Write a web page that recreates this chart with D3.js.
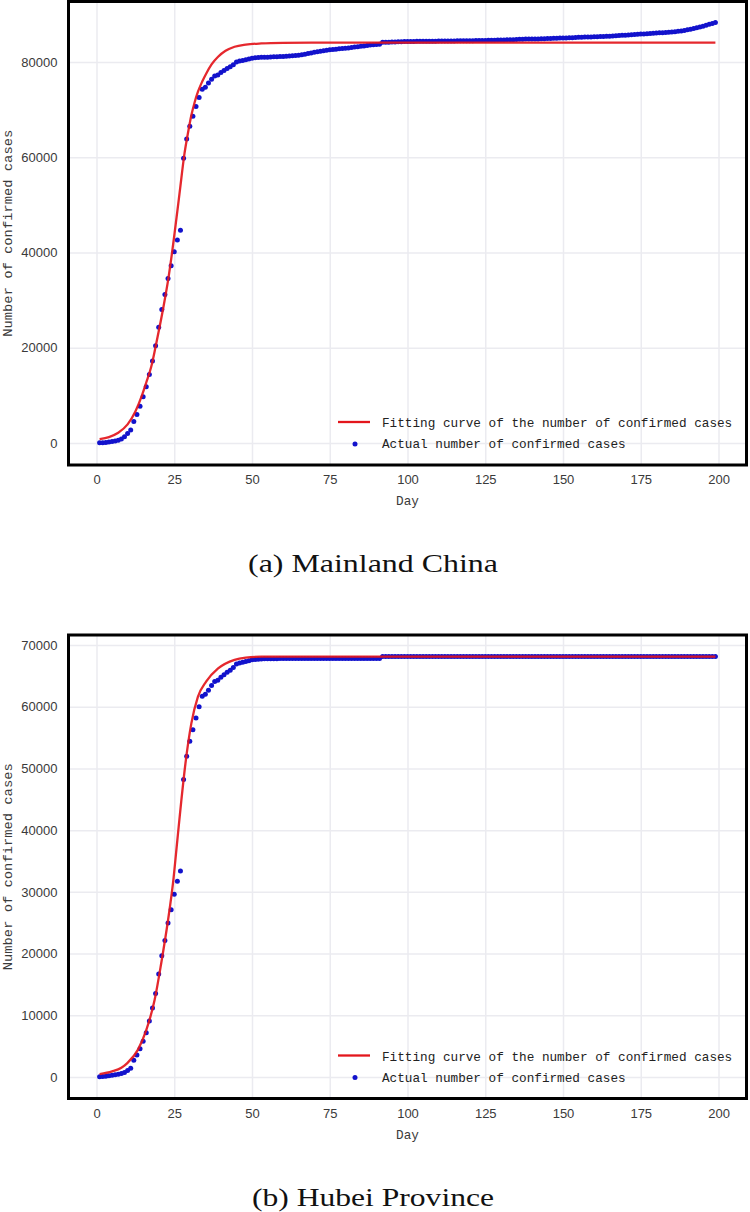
<!DOCTYPE html>
<html>
<head>
<meta charset="utf-8">
<script src="https://cdn.jsdelivr.net/npm/d3@7"></script>
<style>
  body { margin: 0; background: #fff; }
  svg { display: block; }
</style>
</head>
<body>
<svg id="chart" width="750" height="1212"></svg>
<script>
const xTicks = [0, 25, 50, 75, 100, 125, 150, 175, 200];
const chinaTicks = [0, 20000, 40000, 60000, 80000];
const hubeiTicks = [0, 10000, 20000, 30000, 40000, 50000, 60000, 70000];
const legendLabels = ['Fitting curve of the number of confirmed cases', 'Actual number of confirmed cases'];
const captions = ['(a) Mainland China', '(b) Hubei Province'];

// cumulative confirmed cases, day 1..199
const chinaActual = [
  45, 62, 121, 198, 291, 440, 571, 830, 1287, 1975,
  2744, 4515, 5974, 7711, 9692, 11791, 14380, 17205, 20438, 24324,
  28018, 31161, 34546, 37198, 40171, 42638, 44653, 59804, 63851, 66492,
  68590, 70640, 72530, 74290, 74680, 75580, 76400, 77060, 77280, 77790,
  78200, 78640, 78980, 79410, 79990, 80200, 80330, 80460, 80610, 80760,
  80870, 80920, 80970, 80990, 81020, 81050, 81080, 81100, 81130, 81170,
  81200, 81240, 81290, 81350, 81420, 81530, 81640, 81780, 81890, 82020,
  82150, 82270, 82370, 82470, 82560, 82630, 82700, 82760, 82810, 82880,
  82950, 83030, 83130, 83220, 83300, 83380, 83480, 83580, 83640, 83690,
  83740, 84150, 84160, 84170, 84200, 84220, 84240, 84260, 84280, 84290,
  84300, 84320, 84330, 84340, 84350, 84360, 84360, 84370, 84380, 84390,
  84400, 84410, 84410, 84420, 84430, 84440, 84450, 84450, 84460, 84470,
  84480, 84490, 84500, 84510, 84520, 84540, 84560, 84580, 84600, 84610,
  84630, 84650, 84670, 84690, 84720, 84750, 84780, 84800, 84810, 84820,
  84830, 84850, 84870, 84890, 84910, 84940, 84960, 84990, 85010, 85030,
  85050, 85070, 85100, 85140, 85170, 85200, 85230, 85250, 85270, 85290,
  85310, 85330, 85360, 85390, 85420, 85460, 85500, 85540, 85590, 85630,
  85670, 85710, 85750, 85800, 85850, 85900, 85950, 86000, 86040, 86080,
  86120, 86160, 86200, 86250, 86300, 86360, 86430, 86510, 86620, 86750,
  86880, 87020, 87170, 87340, 87520, 87710, 87900, 88090, 88290
];

const hubeiActual = [
  45, 62, 121, 198, 270, 375, 444, 549, 729, 1052,
  1423, 2714, 3554, 4586, 5806, 7153, 9074, 11177, 13522, 16678,
  19665, 22112, 24953, 27100, 29631, 31728, 33366, 48206, 51986, 54406,
  56249, 58182, 59989, 61682, 62031, 62662, 63454, 64084, 64287, 64786,
  65187, 65596, 65914, 66337, 66907, 67103, 67217, 67332, 67466, 67592,
  67666, 67707, 67743, 67760, 67773, 67781, 67786, 67790, 67794, 67798,
  67799, 67800, 67800, 67800, 67801, 67801, 67801, 67801, 67801, 67801,
  67801, 67801, 67801, 67801, 67801, 67801, 67801, 67801, 67802, 67802,
  67802, 67802, 67802, 67802, 67803, 67803, 67803, 67803, 67803, 67803,
  67803, 68128, 68128, 68128, 68128, 68128, 68128, 68128, 68128, 68128,
  68128, 68128, 68128, 68128, 68128, 68128, 68128, 68128, 68128, 68128,
  68128, 68128, 68128, 68128, 68128, 68134, 68134, 68134, 68134, 68134,
  68134, 68134, 68134, 68134, 68134, 68135, 68135, 68135, 68135, 68135,
  68135, 68135, 68135, 68135, 68135, 68135, 68135, 68135, 68135, 68135,
  68135, 68135, 68135, 68135, 68135, 68135, 68135, 68135, 68135, 68135,
  68135, 68135, 68135, 68135, 68135, 68135, 68135, 68135, 68135, 68135,
  68135, 68135, 68135, 68135, 68135, 68135, 68135, 68135, 68135, 68135,
  68135, 68135, 68135, 68135, 68135, 68138, 68138, 68138, 68138, 68138,
  68138, 68138, 68138, 68138, 68138, 68139, 68139, 68139, 68139, 68139,
  68139, 68139, 68139, 68139, 68139, 68139, 68139, 68139, 68139
];

// fitted curve, [day, cases]
const chinaFit = [
  [1, 820], [4, 1250], [7, 2150], [10, 3900], [12.5, 6600], [14.5, 9800],
  [16, 12700], [17.6, 16000], [19, 20200], [20.3, 24400], [21.7, 29200],
  [23, 34100], [24.2, 39500], [25.1, 44000], [26.7, 52400], [28.3, 60800],
  [29.5, 65400], [30.5, 68800], [31.5, 71400], [32.6, 73700], [34, 75900],
  [35.3, 77600], [37, 79500], [39.1, 81100], [41.5, 82350], [44.4, 83200],
  [48, 83650], [53, 83900], [60, 84020], [75, 84070], [100, 84080], [199, 84080]
];

const hubeiFit = [
  [1, 450], [5, 900], [8, 1500], [10, 2300], [13.3, 4400], [16, 7600],
  [18.7, 12500], [20.8, 18400], [23, 25400], [24.6, 31400], [26, 38400],
  [27.3, 44900], [28.6, 50800], [30.5, 57300], [32.6, 61600], [35.3, 64100],
  [39.1, 66200], [44.4, 67600], [48, 67950], [53, 68100], [70, 68130], [199, 68130]
];

const svg = d3.select('#chart');
const GRID = '#ebebf0';
const TXT = '#3a3a3a';
const RED = '#e3161c';
const BLUE = '#1212cc';

function drawPanel(box, actual, fit, yTicks, yDomain, caption, capWidth) {
  const x = d3.scaleLinear().domain([-9, 209]).range([box.left, box.right]);
  const y = d3.scaleLinear().domain(yDomain).range([box.bottom, box.top]);
  const g = svg.append('g');

  // axes + grid
  const xa = g.append('g')
    .attr('transform', `translate(0,${box.bottom})`)
    .call(d3.axisBottom(x).tickValues(xTicks).tickSize(-(box.bottom - box.top)).tickPadding(10));
  const ya = g.append('g')
    .attr('transform', `translate(${box.left},0)`)
    .call(d3.axisLeft(y).tickValues(yTicks).tickFormat(d3.format('d')).tickSize(-(box.right - box.left)).tickPadding(11));

  [xa, ya].forEach(a => {
    a.select('.domain').remove();
    a.selectAll('line').attr('stroke', GRID).attr('stroke-width', 1.5);
    a.selectAll('text')
      .attr('fill', TXT)
      .attr('font-family', 'Liberation Sans, Arial, sans-serif')
      .attr('font-size', 13);
  });

  // actual points
  const days = d3.range(1, actual.length + 1);
  g.append('g').selectAll('circle')
    .data(days)
    .join('circle')
      .attr('cx', d => x(d))
      .attr('cy', d => y(actual[d - 1]))
      .attr('r', 2.5)
      .attr('fill', BLUE);

  // fitted curve
  const line = d3.line()
    .x(d => x(d[0]))
    .y(d => y(d[1]))
    .curve(d3.curveMonotoneX);
  g.append('path')
    .datum(fit)
    .attr('d', line)
    .attr('fill', 'none')
    .attr('stroke', RED)
    .attr('stroke-opacity', 0.92)
    .attr('stroke-width', 2.3);

  // frame
  g.append('rect')
    .attr('x', box.left).attr('y', box.top)
    .attr('width', box.right - box.left)
    .attr('height', box.bottom - box.top)
    .attr('fill', 'none')
    .attr('stroke', '#000')
    .attr('stroke-width', 3);

  // legend
  const lg = g.append('g').attr('transform', `translate(0,${box.bottom})`);
  lg.append('line')
    .attr('x1', 338).attr('x2', 370).attr('y1', -43).attr('y2', -43)
    .attr('stroke', RED).attr('stroke-width', 2.3);
  lg.append('circle')
    .attr('cx', 355).attr('cy', -21).attr('r', 2.5).attr('fill', BLUE);
  lg.selectAll('text')
    .data(legendLabels)
    .join('text')
      .attr('x', 382)
      .attr('y', (d, i) => i ? -17 : -38)
      .attr('fill', '#222')
      .attr('font-family', 'Liberation Mono, DejaVu Sans Mono, monospace')
      .attr('font-size', 12.7)
      .text(d => d);

  // axis titles
  g.append('text')
    .attr('x', (box.left + box.right) / 2)
    .attr('y', box.bottom + 40)
    .attr('text-anchor', 'middle')
    .attr('fill', TXT)
    .attr('font-family', 'Liberation Mono, DejaVu Sans Mono, monospace')
    .attr('font-size', 12.7)
    .text('Day');

  g.append('text')
    .attr('transform', `translate(12,${(box.top + box.bottom) / 2}) rotate(-90)`)
    .attr('text-anchor', 'middle')
    .attr('fill', TXT)
    .attr('font-family', 'Liberation Mono, DejaVu Sans Mono, monospace')
    .attr('font-size', 13)
    .attr('textLength', 207)
    .attr('lengthAdjust', 'spacingAndGlyphs')
    .text('Number of confirmed cases');

  // caption
  g.append('text')
    .attr('x', 373)
    .attr('y', box.bottom + 107)
    .attr('text-anchor', 'middle')
    .attr('fill', '#111')
    .attr('font-family', 'Liberation Serif, Times New Roman, serif')
    .attr('font-size', 26)
    .attr('textLength', capWidth)
    .attr('lengthAdjust', 'spacingAndGlyphs')
    .text(caption);
}

drawPanel({left: 68.5, right: 746.5, top: 1.5, bottom: 465},
  chinaActual, chinaFit, chinaTicks, [-4620, 92700], captions[0], 250);
drawPanel({left: 68.5, right: 746.5, top: 635, bottom: 1098.5},
  hubeiActual, hubeiFit, hubeiTicks, [-3484, 71620], captions[1], 242);
</script>
</body>
</html>
